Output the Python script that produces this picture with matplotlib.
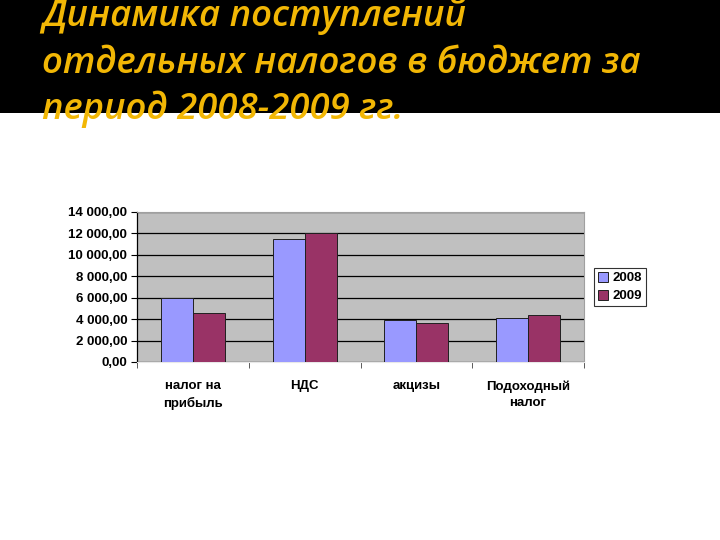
import numpy as np
import matplotlib.pyplot as plt
from matplotlib.patches import Rectangle
from matplotlib.ticker import FuncFormatter, FixedLocator

categories = ['налог на\nприбыль', 'НДС', 'акцизы', 'Подоходный\nналог']
years = ['2008', '2009']
values_2008 = [6000, 11450, 3900, 4150]
values_2009 = [4600, 12000, 3600, 4350]
colors = ['#9999FF', '#993366']
title_lines = ['Динамика поступлений',
               'отдельных налогов в бюджет за',
               'период 2008-2009 гг.']

W, H = 720, 540
fig = plt.figure(figsize=(7.2, 5.4), dpi=100)
fig.patch.set_facecolor('white')

# black header band
fig.patches.append(Rectangle((0, 1 - 113 / H), 1, 113 / H, transform=fig.transFigure,
                             facecolor='black', edgecolor='none', zorder=0))

baselines = [26, 73, 119]
for line, yb in zip(title_lines, baselines):
    fig.text(42 / W, 1 - yb / H, line, color='#F2B705', fontsize=26.3,
             family='Open Sans', style='italic', weight='semibold',
             va='baseline', ha='left', zorder=2)

ax = fig.add_axes([137 / W, (H - 362) / H, 447 / W, 150 / H])
ax.set_facecolor('#C0C0C0')

x = np.arange(len(categories))
bw = 0.286
ax.bar(x - bw / 2, values_2008, bw, color=colors[0], edgecolor='#202020', linewidth=0.7,
       label=years[0], zorder=3)
ax.bar(x + bw / 2, values_2009, bw, color=colors[1], edgecolor='#202020', linewidth=0.7,
       label=years[1], zorder=3)

ax.set_xlim(-0.5, len(categories) - 0.5)
ax.set_ylim(0, 14000)
ax.set_yticks(np.arange(0, 14001, 2000))
ax.yaxis.set_major_formatter(FuncFormatter(
    lambda v, p: f'{v:,.2f}'.replace(',', ' ').replace('.', ',')))
ax.yaxis.grid(True, color='black', linewidth=0.9, zorder=1)
ax.set_axisbelow(True)

ax.set_xticks(x)
ax.set_xticklabels(categories)
ax.tick_params(axis='x', length=0, pad=13)
ax.xaxis.set_minor_locator(FixedLocator(np.arange(-0.5, len(categories), 1)))
ax.tick_params(axis='x', which='minor', length=4, color='#404040')
ax.tick_params(axis='y', length=4, pad=3)

for lab in ax.get_xticklabels() + ax.get_yticklabels():
    lab.set_family('Liberation Sans')
    lab.set_fontweight('bold')
    lab.set_fontsize(9.5)
    lab.set_linespacing(1.45)

for s in ['top', 'right']:
    ax.spines[s].set_color('#A0A0A0')
    ax.spines[s].set_linewidth(0.8)
ax.spines['bottom'].set_color('#E8E8E8')
ax.spines['left'].set_color('black')
ax.spines['left'].set_linewidth(0.9)

leg = ax.legend(loc='center left', bbox_to_anchor=(1.022, 0.5), frameon=True,
                fancybox=False, edgecolor='black', handlelength=0.8, handleheight=0.8,
                handletextpad=0.3, borderpad=0.3, labelspacing=0.4, borderaxespad=0,
                prop={'family': 'Liberation Sans', 'weight': 'bold', 'size': 9.5})
leg.get_frame().set_linewidth(0.8)

fig.savefig('out.png', dpi=100)
